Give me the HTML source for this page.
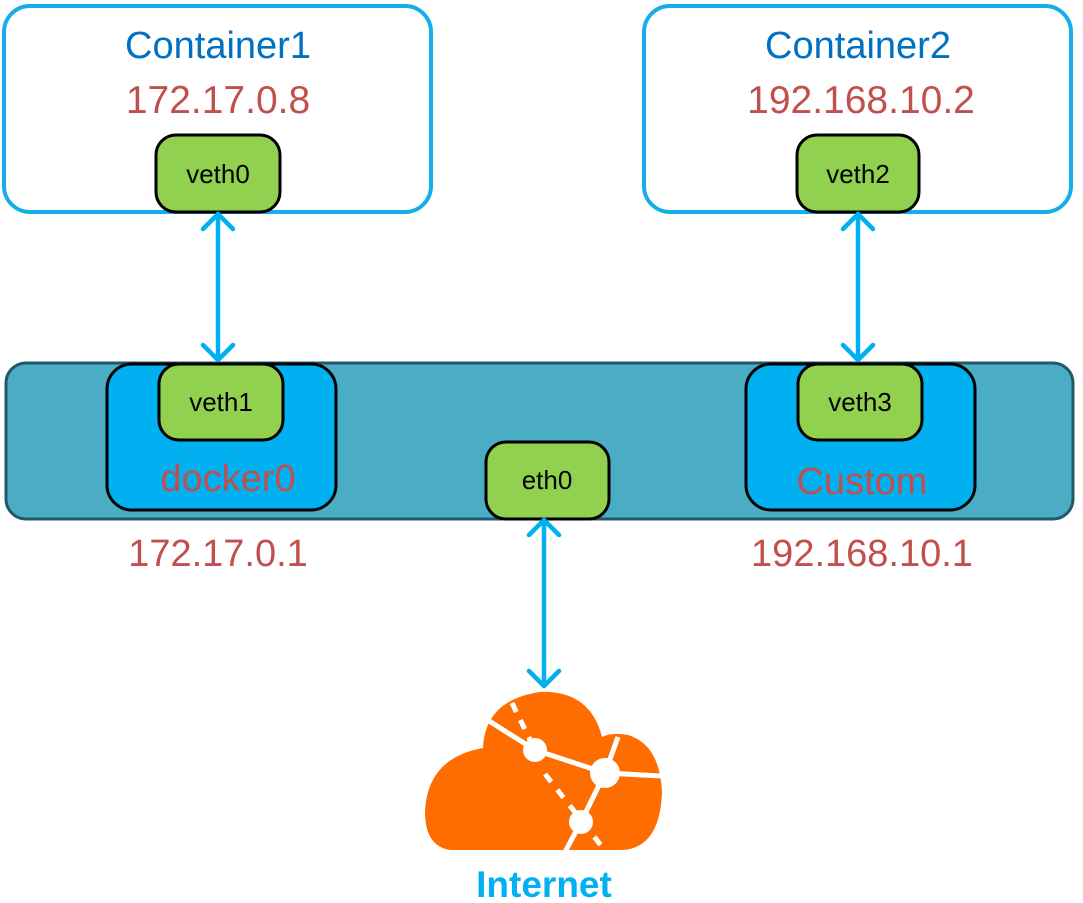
<!DOCTYPE html>
<html><head><meta charset="utf-8"><style>
html,body{margin:0;padding:0;background:#fff;width:1083px;height:903px;overflow:hidden}
svg{display:block}
text{font-family:"Liberation Sans","DejaVu Sans",sans-serif;text-anchor:middle}
</style></head><body>
<svg width="1083" height="903" viewBox="0 0 1083 903" xmlns="http://www.w3.org/2000/svg">
<rect x="4" y="6" width="427" height="206" rx="26" fill="#fff" stroke="#14aeea" stroke-width="4"/>
<rect x="644" y="6" width="427" height="206" rx="26" fill="#fff" stroke="#14aeea" stroke-width="4"/>
<text x="218" y="58" font-size="38" fill="#0070c0">Container1</text>
<text x="218" y="113" font-size="39" fill="#c0504d">172.17.0.8</text>
<text x="858" y="58" font-size="38" fill="#0070c0">Container2</text>
<text x="861" y="113" font-size="39" fill="#c0504d">192.168.10.2</text>
<rect x="156" y="135" width="124" height="77" rx="20" fill="#92d050" stroke="#000" stroke-width="3"/>
<text x="218" y="183" font-size="26" fill="#000">veth0</text>
<rect x="797" y="135" width="122" height="77" rx="20" fill="#92d050" stroke="#000" stroke-width="3"/>
<text x="858" y="183" font-size="26" fill="#000">veth2</text>
<rect x="6" y="363" width="1067" height="156" rx="20" fill="#4bacc6" stroke="#215968" stroke-width="3"/>
<rect x="107" y="364" width="229" height="146" rx="25" fill="#00b0f0" stroke="#000" stroke-width="3"/>
<rect x="159" y="364" width="124" height="76" rx="20" fill="#92d050" stroke="#000" stroke-width="3"/>
<text x="221" y="411" font-size="26" fill="#000">veth1</text>
<text x="228" y="491" font-size="38" fill="#c0504d">docker0</text>
<rect x="746" y="364" width="229" height="146" rx="25" fill="#00b0f0" stroke="#000" stroke-width="3"/>
<rect x="798" y="364" width="124" height="76" rx="20" fill="#92d050" stroke="#000" stroke-width="3"/>
<text x="860" y="411" font-size="26" fill="#000">veth3</text>
<text x="862" y="494" font-size="38" fill="#c0504d">Custom</text>
<rect x="486" y="442" width="123" height="77" rx="20" fill="#92d050" stroke="#000" stroke-width="3"/>
<text x="547" y="489" font-size="26" fill="#000">eth0</text>
<text x="218" y="566" font-size="38" fill="#c0504d">172.17.0.1</text>
<text x="862" y="566" font-size="38" fill="#c0504d">192.168.10.1</text>
<g stroke="#00b0f0" stroke-width="4.5" fill="none" stroke-linecap="round" stroke-linejoin="round">
<line x1="218" y1="214" x2="218" y2="360"/>
<polyline points="203,229 218,214 233,229"/>
<polyline points="203,345 218,360 233,345"/>
<line x1="858" y1="214" x2="858" y2="360"/>
<polyline points="843,229 858,214 873,229"/>
<polyline points="843,345 858,360 873,345"/>
<line x1="544" y1="520" x2="544" y2="686"/>
<polyline points="529,535 544,520 559,535"/>
<polyline points="529,671 544,686 559,671"/>
</g>
<path d="M450,850 Q425,846 425,812 Q427,758 483,748 Q485,700 540,692 Q590,690 602,737 Q612,732 628,735 Q660,745 662,792 Q660,848 622,850 Z" fill="#ff6d00"/>
<g stroke="#fff" stroke-width="5" fill="none">
<polyline points="486,719 535,750 605,773 618,737"/>
<line x1="605" y1="773" x2="662" y2="776"/>
<polyline points="605,773 581,822 565,852"/>
<line x1="512" y1="703" x2="535" y2="750" stroke-dasharray="10,9"/>
<line x1="545" y1="774" x2="603" y2="848" stroke-dasharray="10,10"/>
</g>
<circle cx="535" cy="750" r="12" fill="#fff"/>
<circle cx="605" cy="773" r="15" fill="#fff"/>
<circle cx="581" cy="822" r="12" fill="#fff"/>
<text x="544" y="897" font-size="37" font-weight="600" fill="#00b0f0">Internet</text>
</svg>
</body></html>
